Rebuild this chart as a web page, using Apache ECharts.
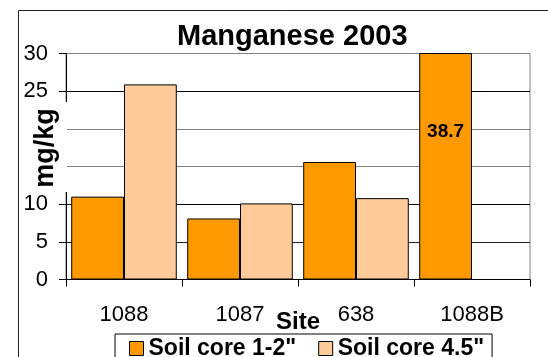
<!DOCTYPE html>
<html>
<head>
<meta charset="utf-8">
<script src="https://cdn.jsdelivr.net/npm/echarts@6/dist/echarts.min.js"></script>
<style>
  html, body { margin: 0; padding: 0; background: #fff; }
  #chart { width: 548px; height: 357px; }
</style>
</head>
<body>
<div id="chart"></div>
<script>
// Sites sampled and manganese concentrations (mg/kg) per soil core depth
const sites = ['1088', '1087', '638', '1088B'];
const core12 = [11.0, 8.1, 15.6, 38.7];
const core45 = [25.9, 10.1, 10.8, null];
const yTicks = { min: 0, max: 30, interval: 5 };

const FONT = '"Liberation Sans", Arial, Helvetica, sans-serif';

const chart = echarts.init(document.getElementById('chart'), null, { renderer: 'canvas' });

chart.setOption({
  animation: false,
  backgroundColor: '#fff',
  textStyle: { fontFamily: FONT },
  title: {
    text: 'Manganese 2003',
    left: 177,
    top: 22,
    padding: 0,
    textStyle: { fontFamily: FONT, fontSize: 29, fontWeight: 'bold', color: '#000' }
  },
  grid: {
    left: 66,
    top: 53.5,
    width: 464,
    height: 226,
    show: true,
    borderColor: '#808080',
    borderWidth: 1,
    backgroundColor: 'transparent'
  },
  xAxis: {
    type: 'category',
    data: sites,
    name: 'Site',
    nameLocation: 'middle',
    nameGap: 31,
    nameMoveOverlap: false,
    nameTextStyle: { fontFamily: FONT, fontSize: 24, fontWeight: 'bold', color: '#000' },
    axisLine: { show: true, lineStyle: { color: '#000', width: 1 } },
    axisTick: { show: true, length: 7, lineStyle: { color: '#000' } },
    axisLabel: { margin: 24, fontFamily: FONT, fontSize: 22, color: '#000' },
    splitLine: { show: false }
  },
  yAxis: {
    type: 'value',
    min: yTicks.min,
    max: yTicks.max,
    interval: yTicks.interval,
    axisLine: { show: true, lineStyle: { color: '#000', width: 1 } },
    axisTick: { show: true, length: 7, lineStyle: { color: '#000' } },
    axisLabel: { margin: 18, fontFamily: FONT, fontSize: 22, color: '#000' },
    splitLine: {
      show: true,
      showMinLine: true,
      showMaxLine: true,
      lineStyle: {
        color: ['#000', '#222', '#000', '#808080', '#808080', '#000', '#808080'],
        width: 1
      }
    }
  },
  legend: {
    left: 115,
    top: 334,
    orient: 'horizontal',
    padding: [3, 8, 12, 14],
    borderColor: '#000',
    borderWidth: 1,
    itemGap: 22,
    itemWidth: 14,
    itemHeight: 14,
    icon: 'rect',
    itemStyle: { borderColor: '#000', borderWidth: 1 },
    textStyle: { fontFamily: FONT, fontSize: 23, fontWeight: 'bold', color: '#000' },
    data: ['Soil core 1-2"', 'Soil core 4.5"']
  },
  series: [
    {
      name: 'Soil core 1-2"',
      type: 'bar',
      data: core12,
      clip: true,
      barGap: '0%',
      barCategoryGap: '9%',
      itemStyle: { color: '#FF9900', borderColor: '#000', borderWidth: 1 },
      label: {
        show: true,
        position: 'insideTop',
        distance: 69,
        fontFamily: FONT,
        fontSize: 19,
        fontWeight: 'bold',
        color: '#000',
        // only the off-scale bar carries its value
        formatter: p => (p.value > yTicks.max ? p.value.toFixed(1) : '')
      }
    },
    {
      name: 'Soil core 4.5"',
      type: 'bar',
      data: core45,
      clip: true,
      barGap: '0%',
      barCategoryGap: '9%',
      itemStyle: { color: '#FFCC99', borderColor: '#000', borderWidth: 1 }
    }
  ],
  graphic: [
    {
      // outer chart frame
      type: 'rect',
      z: 20,
      silent: true,
      shape: { x: 18.5, y: 10.5, width: 700, height: 500 },
      style: { fill: 'none', stroke: '#222', lineWidth: 1 }
    },
    {
      // white backing behind the vertical axis title
      type: 'rect',
      z: 20,
      silent: true,
      shape: { x: 19, y: 102, width: 48, height: 90 },
      style: { fill: '#fff' }
    },
    {
      type: 'text',
      z: 21,
      silent: true,
      x: 45.5,
      y: 148,
      rotation: Math.PI / 2,
      style: {
        text: 'mg/kg',
        x: 0,
        y: 0,
        align: 'center',
        verticalAlign: 'middle',
        font: 'bold 27px ' + FONT,
        fill: '#000'
      }
    }
  ]
});
</script>
</body>
</html>
